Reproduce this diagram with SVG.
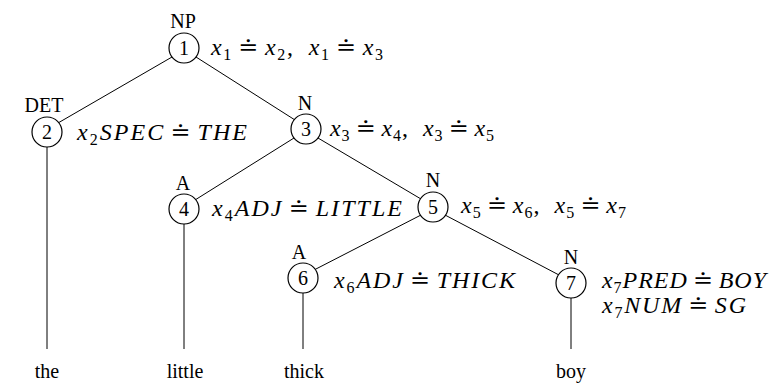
<svg xmlns="http://www.w3.org/2000/svg" width="771" height="383" viewBox="0 0 771 383">
<style>
text{font-family:"Liberation Serif","DejaVu Serif",serif;font-size:20px;fill:#000}
.c{text-anchor:middle}
.m{font-style:italic;font-size:24px}
.r{font-style:normal}
.s{font-size:16px;font-style:normal}
circle{fill:#fff;stroke:#000;stroke-width:1.2}
line{stroke:#000;stroke-width:1}
</style>
<rect width="771" height="383" fill="#fff"/>
<g id="connectors">
<line x1="172" y1="57" x2="58" y2="123"/>
<line x1="196" y1="57" x2="295" y2="120"/>
<line x1="294" y1="138" x2="195" y2="200"/>
<line x1="318" y1="138" x2="421" y2="199"/>
<line x1="421" y1="215" x2="314" y2="270"/>
<line x1="445" y1="215" x2="559" y2="275"/>
<line x1="47" y1="147" x2="47" y2="349"/>
<line x1="184" y1="224" x2="184" y2="349"/>
<line x1="303" y1="293" x2="303" y2="349"/>
<line x1="571" y1="298" x2="571" y2="349"/>
</g>
<g id="n1">
<text class="c" x="183" y="28">NP</text>
<circle cx="184" cy="48" r="15"/>
<text class="c" x="184" y="55">1</text>
<text class="m" x="211" y="55" textLength="172" lengthAdjust="spacing">x<tspan class="s" dy="5">1</tspan><tspan class="r" dy="-5" dx="5">≐</tspan><tspan dx="5">x</tspan><tspan class="s" dy="5">2</tspan><tspan class="r" dy="-5">,</tspan><tspan dx="14">x</tspan><tspan class="s" dy="5">1</tspan><tspan class="r" dy="-5" dx="5">≐</tspan><tspan dx="5">x</tspan><tspan class="s" dy="5">3</tspan></text>
</g>
<g id="n2">
<text class="c" x="44" y="112">DET</text>
<circle cx="47" cy="132" r="15"/>
<text class="c" x="47" y="139">2</text>
<text class="m" x="77" y="140" textLength="170" lengthAdjust="spacing">x<tspan class="s" dy="5">2</tspan><tspan dy="-5">SPEC</tspan><tspan class="r" dx="5">≐</tspan><tspan dx="5">THE</tspan></text>
</g>
<g id="n3">
<text class="c" x="305" y="110">N</text>
<circle cx="306" cy="129" r="15"/>
<text class="c" x="306" y="136">3</text>
<text class="m" x="330" y="136" textLength="164" lengthAdjust="spacing">x<tspan class="s" dy="5">3</tspan><tspan class="r" dy="-5" dx="5">≐</tspan><tspan dx="5">x</tspan><tspan class="s" dy="5">4</tspan><tspan class="r" dy="-5">,</tspan><tspan dx="14">x</tspan><tspan class="s" dy="5">3</tspan><tspan class="r" dy="-5" dx="5">≐</tspan><tspan dx="5">x</tspan><tspan class="s" dy="5">5</tspan></text>
</g>
<g id="n4">
<text class="c" x="183" y="190">A</text>
<circle cx="184" cy="209" r="15"/>
<text class="c" x="184" y="216">4</text>
<text class="m" x="212" y="216" textLength="190" lengthAdjust="spacing">x<tspan class="s" dy="5">4</tspan><tspan dy="-5">ADJ</tspan><tspan class="r" dx="5">≐</tspan><tspan dx="5">LITTLE</tspan></text>
</g>
<g id="n5">
<text class="c" x="433" y="187">N</text>
<circle cx="433" cy="207" r="15"/>
<text class="c" x="433" y="214">5</text>
<text class="m" x="461" y="213" textLength="165" lengthAdjust="spacing">x<tspan class="s" dy="5">5</tspan><tspan class="r" dy="-5" dx="5">≐</tspan><tspan dx="5">x</tspan><tspan class="s" dy="5">6</tspan><tspan class="r" dy="-5">,</tspan><tspan dx="14">x</tspan><tspan class="s" dy="5">5</tspan><tspan class="r" dy="-5" dx="5">≐</tspan><tspan dx="5">x</tspan><tspan class="s" dy="5">7</tspan></text>
</g>
<g id="n6">
<text class="c" x="299" y="259">A</text>
<circle cx="303" cy="278" r="15"/>
<text class="c" x="303" y="285">6</text>
<text class="m" x="334" y="288" textLength="181" lengthAdjust="spacing">x<tspan class="s" dy="5">6</tspan><tspan dy="-5">ADJ</tspan><tspan class="r" dx="5">≐</tspan><tspan dx="5">THICK</tspan></text>
</g>
<g id="n7">
<text class="c" x="571" y="264">N</text>
<circle cx="571" cy="283" r="15"/>
<text class="c" x="571" y="290">7</text>
<text class="m" x="602" y="288" textLength="164" lengthAdjust="spacing">x<tspan class="s" dy="5">7</tspan><tspan dy="-5">PRED</tspan><tspan class="r" dx="5">≐</tspan><tspan dx="5">BOY</tspan></text>
<text class="m" x="602" y="313" textLength="144" lengthAdjust="spacing">x<tspan class="s" dy="5">7</tspan><tspan dy="-5">NUM</tspan><tspan class="r" dx="5">≐</tspan><tspan dx="5">SG</tspan></text>
</g>
<g id="words">
<text class="c" x="47" y="378">the</text>
<text class="c" x="185" y="378">little</text>
<text class="c" x="304" y="378">thick</text>
<text class="c" x="571" y="378">boy</text>
</g>
</svg>
